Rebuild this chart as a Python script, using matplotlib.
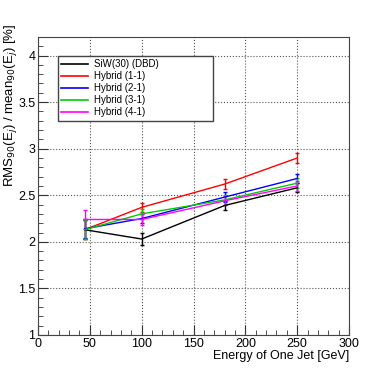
import matplotlib
matplotlib.use("Agg")
import matplotlib.pyplot as plt
from matplotlib.ticker import MultipleLocator
from matplotlib.lines import Line2D

plt.rcParams['font.family'] = ['Liberation Sans', 'DejaVu Sans']

# --- Data ---
energy = [45, 100, 180, 250]
labels = ["SiW(30) (DBD)", "Hybrid (1-1)", "Hybrid (2-1)", "Hybrid (3-1)", "Hybrid (4-1)"]
colors = ["#000000", "#ff0000", "#0000ff", "#00cc00", "#ff00ff"]
siw = [2.13, 2.03, 2.39, 2.58]
siw_err = [0.10, 0.06, 0.05, 0.05]
hyb11 = [2.13, 2.37, 2.62, 2.90]
hyb11_err = [0.10, 0.05, 0.05, 0.05]
hyb21 = [2.14, 2.25, 2.48, 2.68]
hyb21_err = [0.10, 0.05, 0.05, 0.05]
hyb31 = [2.13, 2.30, 2.45, 2.63]
hyb31_err = [0.10, 0.05, 0.05, 0.05]
hyb41 = [2.24, 2.24, 2.44, 2.60]
hyb41_err = [0.10, 0.06, 0.05, 0.05]

series = [siw, hyb11, hyb21, hyb31, hyb41]
errors = [siw_err, hyb11_err, hyb21_err, hyb31_err, hyb41_err]

# --- Plot ---
fig = plt.figure(figsize=(3.88, 3.73), dpi=100)
ax = fig.add_axes([0.098, 0.102, 0.8015, 0.799])

for y, e, c in zip(series, errors, colors):
    ax.errorbar(energy, y, yerr=e, color=c, lw=1.0, elinewidth=1.0,
                capsize=1.5, capthick=1.0)

ax.set_xlim(0, 300)
ax.set_ylim(1, 4.2)
ax.xaxis.set_minor_locator(MultipleLocator(10))
ax.yaxis.set_minor_locator(MultipleLocator(0.1))
ax.set_xticks([0, 50, 100, 150, 200, 250, 300])
ax.set_xticklabels(["0", "50", "100", "150", "200", "250", "300"])
ax.set_yticks([1, 1.5, 2, 2.5, 3, 3.5, 4])
ax.set_yticklabels(["1", "1.5", "2", "2.5", "3", "3.5", "4"])
ax.tick_params(which='both', direction='in', labelsize=9, color='#333333')
ax.tick_params(which='major', length=7)
ax.tick_params(which='minor', length=3.5)
ax.tick_params(axis='x', pad=2)
ax.tick_params(axis='y', pad=2)
ax.grid(True, which='major', ls=':', color='#555555', lw=0.8)
for s in ax.spines.values():
    s.set_linewidth(0.8)
    s.set_color('#444444')

ax.set_xlabel("Energy of One Jet [GeV]", fontsize=9, loc='right', labelpad=0)
ax.set_ylabel(r"RMS$_{90}$(E$_{j}$) / mean$_{90}$(E$_{j}$) [%]", fontsize=9.5,
              loc='top')
ax.yaxis.set_label_coords(-0.06, 1.045)

handles = [Line2D([], [], color=c, lw=1.2) for c in colors]
leg = ax.legend(handles, labels, loc='upper left', mode='expand',
                bbox_to_anchor=(0.0643, 0.748, 0.498, 0.188), fontsize=7,
                frameon=True, fancybox=False, borderpad=0.35, labelspacing=0.2,
                handlelength=2.7, handletextpad=0.7, borderaxespad=0)
leg.get_frame().set_edgecolor('#444444')
leg.get_frame().set_linewidth(1.0)
leg.get_frame().set_alpha(1)

fig.savefig("out.png", dpi=100)
